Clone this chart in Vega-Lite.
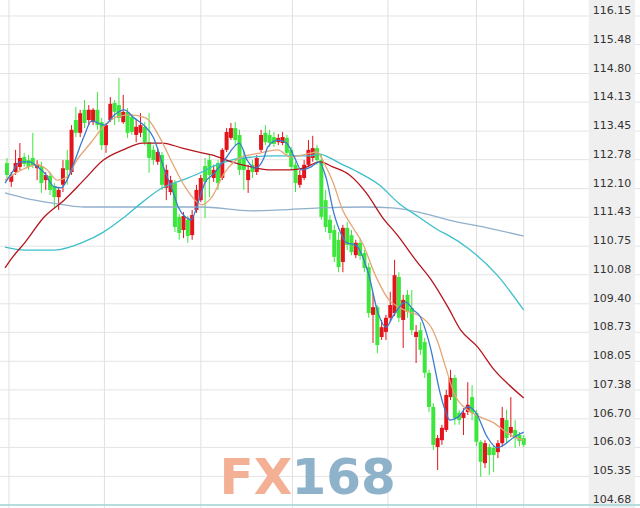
{
"$schema":"https://vega.github.io/schema/vega-lite/v6.json",
"width":640,"height":508,"autosize":{"type":"none"},"padding":0,
"background":"#ffffff",
"config":{"view":{"stroke":null}},
"datasets":{
"ticks":[{"v":116.15},{"v":115.48},{"v":114.80},{"v":114.13},{"v":113.45},{"v":112.78},{"v":112.10},{"v":111.43},{"v":110.75},{"v":110.08},{"v":109.40},{"v":108.73},{"v":108.05},{"v":107.38},{"v":106.70},{"v":106.03},{"v":105.35},{"v":104.68}],
"vgrid":[{"i":0.46},{"i":22.63},{"i":45.03},{"i":66.29},{"i":88.46},{"i":109.03},{"i":120}],
"candles":[
{"i":0,"o":112.70,"h":112.82,"l":112.35,"c":112.42},
{"i":1,"o":112.26,"h":112.49,"l":112.14,"c":112.42},
{"i":2,"o":112.49,"h":113.01,"l":112.42,"c":112.70},
{"i":3,"o":112.61,"h":113.17,"l":112.54,"c":112.82},
{"i":4,"o":112.84,"h":112.94,"l":112.61,"c":112.68},
{"i":5,"o":112.77,"h":112.89,"l":112.54,"c":112.61},
{"i":6,"o":112.82,"h":113.41,"l":112.58,"c":112.63},
{"i":7,"o":112.58,"h":112.77,"l":112.30,"c":112.68},
{"i":8,"o":112.63,"h":112.73,"l":112.00,"c":112.23},
{"i":9,"o":112.30,"h":112.49,"l":112.07,"c":112.42},
{"i":10,"o":112.40,"h":112.49,"l":111.95,"c":112.07},
{"i":11,"o":112.16,"h":112.23,"l":111.65,"c":111.90},
{"i":12,"o":111.90,"h":112.14,"l":111.60,"c":112.07},
{"i":13,"o":112.19,"h":112.77,"l":112.02,"c":112.58},
{"i":14,"o":112.77,"h":113.01,"l":112.19,"c":112.54},
{"i":15,"o":112.49,"h":113.59,"l":112.42,"c":113.48},
{"i":16,"o":113.71,"h":114.02,"l":113.31,"c":113.41},
{"i":17,"o":113.41,"h":113.95,"l":113.31,"c":113.87},
{"i":18,"o":113.95,"h":114.18,"l":113.52,"c":113.64},
{"i":19,"o":113.71,"h":114.06,"l":113.59,"c":113.95},
{"i":20,"o":113.66,"h":113.99,"l":113.59,"c":113.95},
{"i":21,"o":113.95,"h":114.37,"l":113.48,"c":113.59},
{"i":22,"o":113.66,"h":113.76,"l":113.01,"c":113.12},
{"i":23,"o":113.12,"h":113.64,"l":112.94,"c":113.59},
{"i":24,"o":113.71,"h":114.25,"l":113.66,"c":114.09},
{"i":25,"o":114.11,"h":114.18,"l":113.59,"c":113.90},
{"i":26,"o":114.06,"h":114.70,"l":113.66,"c":113.76},
{"i":27,"o":113.66,"h":114.30,"l":113.62,"c":113.90},
{"i":28,"o":113.90,"h":113.99,"l":113.29,"c":113.41},
{"i":29,"o":113.78,"h":113.85,"l":113.36,"c":113.43},
{"i":30,"o":113.36,"h":113.71,"l":113.19,"c":113.55},
{"i":31,"o":113.41,"h":113.87,"l":113.31,"c":113.59},
{"i":32,"o":113.55,"h":113.66,"l":113.12,"c":113.19},
{"i":33,"o":113.19,"h":113.87,"l":112.47,"c":112.82},
{"i":34,"o":113.01,"h":113.12,"l":112.66,"c":112.77},
{"i":35,"o":112.73,"h":113.05,"l":112.66,"c":112.96},
{"i":36,"o":112.89,"h":112.96,"l":112.07,"c":112.19},
{"i":37,"o":112.12,"h":112.66,"l":111.83,"c":112.54},
{"i":38,"o":112.02,"h":112.40,"l":111.95,"c":112.30},
{"i":39,"o":112.23,"h":112.30,"l":111.08,"c":111.20},
{"i":40,"o":111.44,"h":111.51,"l":110.90,"c":111.06},
{"i":41,"o":111.13,"h":111.55,"l":110.94,"c":111.46},
{"i":42,"o":111.37,"h":111.46,"l":110.83,"c":110.99},
{"i":43,"o":111.01,"h":111.60,"l":110.90,"c":111.48},
{"i":44,"o":111.60,"h":112.19,"l":111.53,"c":112.07},
{"i":45,"o":111.83,"h":112.42,"l":111.79,"c":112.35},
{"i":46,"o":112.63,"h":112.82,"l":111.41,"c":112.26},
{"i":47,"o":112.77,"h":112.89,"l":111.90,"c":112.42},
{"i":48,"o":112.35,"h":112.66,"l":112.26,"c":112.54},
{"i":49,"o":112.70,"h":112.77,"l":112.07,"c":112.23},
{"i":50,"o":112.35,"h":113.05,"l":112.30,"c":113.01},
{"i":51,"o":113.01,"h":113.52,"l":112.96,"c":113.43},
{"i":52,"o":113.29,"h":113.64,"l":113.24,"c":113.52},
{"i":53,"o":113.52,"h":113.66,"l":113.12,"c":113.24},
{"i":54,"o":113.36,"h":113.48,"l":112.42,"c":112.54},
{"i":55,"o":112.82,"h":113.01,"l":112.07,"c":112.54},
{"i":56,"o":112.30,"h":112.66,"l":112.00,"c":112.54},
{"i":57,"o":112.66,"h":112.77,"l":112.35,"c":112.49},
{"i":58,"o":112.49,"h":112.89,"l":112.42,"c":112.82},
{"i":59,"o":113.01,"h":113.48,"l":112.96,"c":113.36},
{"i":60,"o":113.41,"h":113.59,"l":113.12,"c":113.19},
{"i":61,"o":113.36,"h":113.48,"l":113.08,"c":113.17},
{"i":62,"o":113.31,"h":113.43,"l":113.08,"c":113.15},
{"i":63,"o":113.19,"h":113.38,"l":113.12,"c":113.29},
{"i":64,"o":113.17,"h":113.43,"l":113.12,"c":113.31},
{"i":65,"o":113.29,"h":113.36,"l":112.87,"c":112.94},
{"i":66,"o":113.01,"h":113.08,"l":112.54,"c":112.61},
{"i":67,"o":112.66,"h":112.73,"l":112.02,"c":112.23},
{"i":68,"o":112.19,"h":112.54,"l":112.12,"c":112.42},
{"i":69,"o":112.35,"h":112.77,"l":112.30,"c":112.66},
{"i":70,"o":112.66,"h":113.24,"l":112.61,"c":113.01},
{"i":71,"o":112.82,"h":113.34,"l":112.73,"c":113.05},
{"i":72,"o":113.05,"h":113.12,"l":112.66,"c":112.77},
{"i":73,"o":112.77,"h":112.89,"l":111.37,"c":111.44},
{"i":74,"o":111.83,"h":112.07,"l":111.08,"c":111.20},
{"i":75,"o":111.37,"h":111.48,"l":110.90,"c":111.06},
{"i":76,"o":111.13,"h":111.25,"l":110.38,"c":110.50},
{"i":77,"o":110.90,"h":111.08,"l":110.14,"c":110.26},
{"i":78,"o":110.38,"h":111.25,"l":110.14,"c":111.18},
{"i":79,"o":111.18,"h":111.32,"l":110.66,"c":110.78},
{"i":80,"o":111.01,"h":111.13,"l":110.54,"c":110.61},
{"i":81,"o":110.54,"h":110.90,"l":110.47,"c":110.83},
{"i":82,"o":110.83,"h":110.94,"l":110.43,"c":110.52},
{"i":83,"o":110.59,"h":110.66,"l":110.14,"c":110.24},
{"i":84,"o":110.26,"h":110.36,"l":109.07,"c":109.18},
{"i":85,"o":109.14,"h":109.65,"l":108.48,"c":109.32},
{"i":86,"o":109.32,"h":109.37,"l":108.24,"c":108.43},
{"i":87,"o":108.62,"h":109.02,"l":108.55,"c":108.85},
{"i":88,"o":108.74,"h":109.14,"l":108.55,"c":109.07},
{"i":89,"o":109.07,"h":109.68,"l":108.97,"c":109.37},
{"i":90,"o":109.18,"h":110.43,"l":109.11,"c":110.07},
{"i":91,"o":110.03,"h":110.14,"l":108.97,"c":109.07},
{"i":92,"o":109.02,"h":109.61,"l":108.36,"c":109.49},
{"i":93,"o":109.61,"h":109.72,"l":109.07,"c":109.21},
{"i":94,"o":109.30,"h":109.72,"l":108.67,"c":108.78},
{"i":95,"o":108.62,"h":108.90,"l":108.01,"c":108.74},
{"i":96,"o":108.78,"h":108.97,"l":108.20,"c":108.32},
{"i":97,"o":108.50,"h":108.60,"l":107.66,"c":107.78},
{"i":98,"o":107.78,"h":107.85,"l":106.86,"c":106.98},
{"i":99,"o":106.98,"h":107.07,"l":105.97,"c":106.09},
{"i":100,"o":106.04,"h":106.32,"l":105.50,"c":106.25},
{"i":101,"o":106.20,"h":106.56,"l":106.09,"c":106.49},
{"i":102,"o":106.44,"h":107.38,"l":106.39,"c":107.26},
{"i":103,"o":107.21,"h":107.85,"l":107.14,"c":107.66},
{"i":104,"o":107.66,"h":107.73,"l":106.56,"c":106.72},
{"i":105,"o":106.84,"h":106.91,"l":106.56,"c":106.67},
{"i":106,"o":106.72,"h":106.95,"l":106.32,"c":106.84},
{"i":107,"o":106.86,"h":107.56,"l":106.79,"c":107.03},
{"i":108,"o":107.21,"h":107.49,"l":106.67,"c":106.84},
{"i":109,"o":106.84,"h":106.91,"l":106.06,"c":106.16},
{"i":110,"o":106.16,"h":106.20,"l":105.34,"c":105.69},
{"i":111,"o":105.66,"h":106.20,"l":105.55,"c":106.13},
{"i":112,"o":106.04,"h":106.11,"l":105.38,"c":105.85},
{"i":113,"o":106.02,"h":106.09,"l":105.45,"c":105.85},
{"i":114,"o":105.92,"h":106.20,"l":105.78,"c":106.13},
{"i":115,"o":106.13,"h":106.98,"l":106.04,"c":106.72},
{"i":116,"o":106.67,"h":106.91,"l":106.13,"c":106.25},
{"i":117,"o":106.37,"h":107.21,"l":106.27,"c":106.51},
{"i":118,"o":106.44,"h":106.67,"l":106.02,"c":106.25},
{"i":119,"o":106.32,"h":106.39,"l":106.06,"c":106.18},
{"i":120,"o":106.25,"h":106.32,"l":106.04,"c":106.09}
],
"ma":[
{"s":"a","i":-0.46,"v":112.00},{"s":"a","i":4.11,"v":111.88},{"s":"a","i":8.69,"v":111.79},{"s":"a","i":13.26,"v":111.72},{"s":"a","i":17.83,"v":111.67},{"s":"a","i":31.54,"v":111.67},{"s":"a","i":45.26,"v":111.67},{"s":"a","i":56.69,"v":111.58},{"s":"a","i":63.54,"v":111.60},{"s":"a","i":72.69,"v":111.65},{"s":"a","i":83.43,"v":111.67},{"s":"a","i":89.37,"v":111.65},{"s":"a","i":95.54,"v":111.55},{"s":"a","i":102.40,"v":111.37},{"s":"a","i":111.54,"v":111.18},{"s":"a","i":120,"v":110.99},
{"s":"b","i":-0.46,"v":110.73},{"s":"b","i":4.11,"v":110.66},{"s":"b","i":10.97,"v":110.66},{"s":"b","i":17.83,"v":110.85},{"s":"b","i":22.40,"v":111.08},{"s":"b","i":26.97,"v":111.41},{"s":"b","i":31.54,"v":111.79},{"s":"b","i":36.11,"v":112.12},{"s":"b","i":40.69,"v":112.30},{"s":"b","i":45.26,"v":112.49},{"s":"b","i":47.54,"v":112.61},{"s":"b","i":52.11,"v":112.77},{"s":"b","i":56.69,"v":112.84},{"s":"b","i":61.26,"v":112.87},{"s":"b","i":65.83,"v":112.87},{"s":"b","i":70.40,"v":112.87},{"s":"b","i":72.69,"v":112.91},{"s":"b","i":74.97,"v":112.82},{"s":"b","i":77.26,"v":112.70},{"s":"b","i":81.83,"v":112.47},{"s":"b","i":86.40,"v":112.19},{"s":"b","i":90.97,"v":111.76},{"s":"b","i":95.54,"v":111.44},{"s":"b","i":100.11,"v":111.13},{"s":"b","i":102.40,"v":111.01},{"s":"b","i":106.97,"v":110.71},{"s":"b","i":113.83,"v":110.07},{"s":"b","i":120,"v":109.25},
{"s":"c","i":-0.46,"v":110.24},{"s":"c","i":1.14,"v":110.47},{"s":"c","i":4.11,"v":110.83},{"s":"c","i":8.69,"v":111.44},{"s":"c","i":13.26,"v":111.83},{"s":"c","i":17.83,"v":112.30},{"s":"c","i":22.40,"v":112.77},{"s":"c","i":26.97,"v":113.01},{"s":"c","i":31.54,"v":113.17},{"s":"c","i":36.11,"v":113.17},{"s":"c","i":40.69,"v":113.05},{"s":"c","i":45.26,"v":112.94},{"s":"c","i":47.54,"v":112.89},{"s":"c","i":52.11,"v":112.73},{"s":"c","i":56.69,"v":112.61},{"s":"c","i":61.26,"v":112.54},{"s":"c","i":65.83,"v":112.54},{"s":"c","i":68.80,"v":112.58},{"s":"c","i":72.69,"v":112.73},{"s":"c","i":75.66,"v":112.61},{"s":"c","i":79.54,"v":112.42},{"s":"c","i":83.43,"v":112.00},{"s":"c","i":87.09,"v":111.44},{"s":"c","i":90.97,"v":110.97},{"s":"c","i":94.86,"v":110.43},{"s":"c","i":98.51,"v":109.96},{"s":"c","i":102.40,"v":109.32},{"s":"c","i":105.37,"v":108.78},{"s":"c","i":109.26,"v":108.39},{"s":"c","i":113.14,"v":107.85},{"s":"c","i":116.11,"v":107.54},{"s":"c","i":120,"v":107.19},
{"s":"d","i":-0.46,"v":112.30},{"s":"d","i":3.43,"v":112.54},{"s":"d","i":7.09,"v":112.66},{"s":"d","i":9.37,"v":112.54},{"s":"d","i":11.66,"v":112.30},{"s":"d","i":13.94,"v":112.37},{"s":"d","i":16.23,"v":112.77},{"s":"d","i":19.43,"v":113.17},{"s":"d","i":22.40,"v":113.55},{"s":"d","i":25.37,"v":113.78},{"s":"d","i":28.57,"v":113.83},{"s":"d","i":32.23,"v":113.76},{"s":"d","i":35.43,"v":113.31},{"s":"d","i":38.40,"v":112.70},{"s":"d","i":41.37,"v":112.14},{"s":"d","i":43.66,"v":111.83},{"s":"d","i":45.26,"v":111.72},{"s":"d","i":47.54,"v":111.90},{"s":"d","i":50.51,"v":112.47},{"s":"d","i":54.40,"v":112.84},{"s":"d","i":58.97,"v":112.94},{"s":"d","i":62.86,"v":113.01},{"s":"d","i":65.83,"v":112.84},{"s":"d","i":68.80,"v":112.89},{"s":"d","i":72.00,"v":112.96},{"s":"d","i":73.83,"v":112.66},{"s":"d","i":75.66,"v":112.26},{"s":"d","i":77.94,"v":111.60},{"s":"d","i":80.23,"v":111.20},{"s":"d","i":82.51,"v":110.83},{"s":"d","i":85.71,"v":110.03},{"s":"d","i":88.69,"v":109.49},{"s":"d","i":90.97,"v":109.32},{"s":"d","i":93.26,"v":109.21},{"s":"d","i":96.23,"v":109.09},{"s":"d","i":98.51,"v":108.85},{"s":"d","i":100.11,"v":108.48},{"s":"d","i":101.71,"v":107.96},{"s":"d","i":104.00,"v":107.26},{"s":"d","i":106.97,"v":106.91},{"s":"d","i":109.94,"v":106.74},{"s":"d","i":113.14,"v":106.60},{"s":"d","i":116.11,"v":106.37},{"s":"d","i":118.40,"v":106.25},{"s":"d","i":120,"v":106.20},
{"s":"e","i":-0.46,"v":112.23},{"s":"e","i":1.14,"v":112.47},{"s":"e","i":2.97,"v":112.73},{"s":"e","i":5.26,"v":112.73},{"s":"e","i":7.09,"v":112.61},{"s":"e","i":8.69,"v":112.47},{"s":"e","i":10.97,"v":112.14},{"s":"e","i":12.57,"v":112.12},{"s":"e","i":13.94,"v":112.30},{"s":"e","i":15.54,"v":112.70},{"s":"e","i":17.83,"v":113.31},{"s":"e","i":19.66,"v":113.69},{"s":"e","i":22.63,"v":113.59},{"s":"e","i":24.91,"v":113.83},{"s":"e","i":27.20,"v":113.95},{"s":"e","i":29.49,"v":113.76},{"s":"e","i":31.77,"v":113.59},{"s":"e","i":34.06,"v":113.29},{"s":"e","i":36.34,"v":112.61},{"s":"e","i":38.63,"v":112.00},{"s":"e","i":39.77,"v":111.67},{"s":"e","i":41.37,"v":111.44},{"s":"e","i":42.74,"v":111.37},{"s":"e","i":44.34,"v":111.76},{"s":"e","i":45.94,"v":112.23},{"s":"e","i":48.23,"v":112.47},{"s":"e","i":50.51,"v":112.77},{"s":"e","i":53.94,"v":113.17},{"s":"e","i":55.77,"v":112.77},{"s":"e","i":57.60,"v":112.58},{"s":"e","i":59.66,"v":112.82},{"s":"e","i":60.57,"v":113.08},{"s":"e","i":62.86,"v":113.24},{"s":"e","i":64.91,"v":113.17},{"s":"e","i":66.74,"v":112.84},{"s":"e","i":68.34,"v":112.54},{"s":"e","i":70.63,"v":112.61},{"s":"e","i":72.46,"v":112.73},{"s":"e","i":74.06,"v":112.37},{"s":"e","i":75.89,"v":111.53},{"s":"e","i":77.49,"v":111.06},{"s":"e","i":78.86,"v":110.83},{"s":"e","i":80.91,"v":110.78},{"s":"e","i":83.89,"v":110.12},{"s":"e","i":86.17,"v":109.18},{"s":"e","i":88.00,"v":108.85},{"s":"e","i":89.83,"v":109.14},{"s":"e","i":92.57,"v":109.44},{"s":"e","i":94.40,"v":109.25},{"s":"e","i":96.00,"v":109.09},{"s":"e","i":98.29,"v":108.39},{"s":"e","i":100.57,"v":107.31},{"s":"e","i":101.71,"v":106.91},{"s":"e","i":102.86,"v":106.67},{"s":"e","i":104.69,"v":106.74},{"s":"e","i":106.97,"v":106.98},{"s":"e","i":108.80,"v":106.86},{"s":"e","i":111.54,"v":106.27},{"s":"e","i":113.83,"v":106.02},{"s":"e","i":115.43,"v":106.09},{"s":"e","i":117.71,"v":106.27},{"s":"e","i":120,"v":106.39}
]
},
"layer":[
{"data":{"name":"ticks"},"mark":{"type":"rule","color":"#e4e4e4","strokeWidth":1},
 "encoding":{"y":{"field":"v","type":"quantitative","scale":{"domain":[104.609,116.525],"nice":false,"zero":false},"axis":null}}},
{"data":{"name":"vgrid"},"mark":{"type":"rule","color":"#e0e0e0","strokeWidth":1},
 "encoding":{"x":{"field":"i","type":"quantitative","scale":{"domain":[-0.457,145.83],"nice":false,"zero":false},"axis":null}}},
{"data":{"values":[{"a":135.09,"b":145.83}]},"mark":{"type":"rect","color":"#efefef"},
 "encoding":{"x":{"field":"a","type":"quantitative","axis":null},"x2":{"field":"b"}}},
{"data":{"values":[{"v":104.68}]},"mark":{"type":"rule","color":"#a6d6d8","strokeWidth":1.5},
 "encoding":{"y":{"field":"v","type":"quantitative","axis":null}}},
{"data":{"name":"ticks"},"mark":{"type":"text","font":"DejaVu Sans","fontSize":11,"color":"#333333","align":"left","baseline":"alphabetic","dy":-2},
 "encoding":{"x":{"datum":136.0,"type":"quantitative","axis":null},"y":{"field":"v","type":"quantitative","axis":null},"text":{"field":"v","type":"quantitative","format":".2f"}}},
{"data":{"values":[{"i":49.37,"v":104.94,"t":"FX"}]},"mark":{"type":"text","font":"DejaVu Sans","fontWeight":"bold","fontSize":50,"align":"left","baseline":"alphabetic","color":"#f3b095"},
 "encoding":{"x":{"field":"i","type":"quantitative","axis":null},"y":{"field":"v","type":"quantitative","axis":null},"text":{"field":"t"}}},
{"data":{"values":[{"i":66.06,"v":104.94,"t":"168"}]},"mark":{"type":"text","font":"DejaVu Sans","fontWeight":"bold","fontSize":50,"align":"left","baseline":"alphabetic","color":"#8fb2cb"},
 "encoding":{"x":{"field":"i","type":"quantitative","axis":null},"y":{"field":"v","type":"quantitative","axis":null},"text":{"field":"t"}}},
{"data":{"name":"candles"},"mark":{"type":"rule","strokeWidth":1},
 "encoding":{"x":{"field":"i","type":"quantitative","axis":null},"y":{"field":"l","type":"quantitative","axis":null},"y2":{"field":"h"},
 "color":{"condition":{"test":"datum.c >= datum.o","value":"#e3141b"},"value":"#3de63d"}}},
{"data":{"name":"candles"},"mark":{"type":"bar","size":4},
 "encoding":{"x":{"field":"i","type":"quantitative","axis":null},"y":{"field":"o","type":"quantitative","axis":null},"y2":{"field":"c"},
 "color":{"condition":{"test":"datum.c >= datum.o","value":"#e3141b"},"value":"#3de63d"}}},
{"data":{"name":"ma"},"mark":{"type":"line","strokeWidth":1.3,"interpolate":"monotone"},
 "encoding":{"x":{"field":"i","type":"quantitative","axis":null},"y":{"field":"v","type":"quantitative","axis":null},
 "color":{"field":"s","type":"nominal","scale":{"domain":["a","b","c","d","e"],"range":["#90b0cc","#3dbfca","#b5151d","#e5a576","#3a7bd0"]},"legend":null}}}
]
}
